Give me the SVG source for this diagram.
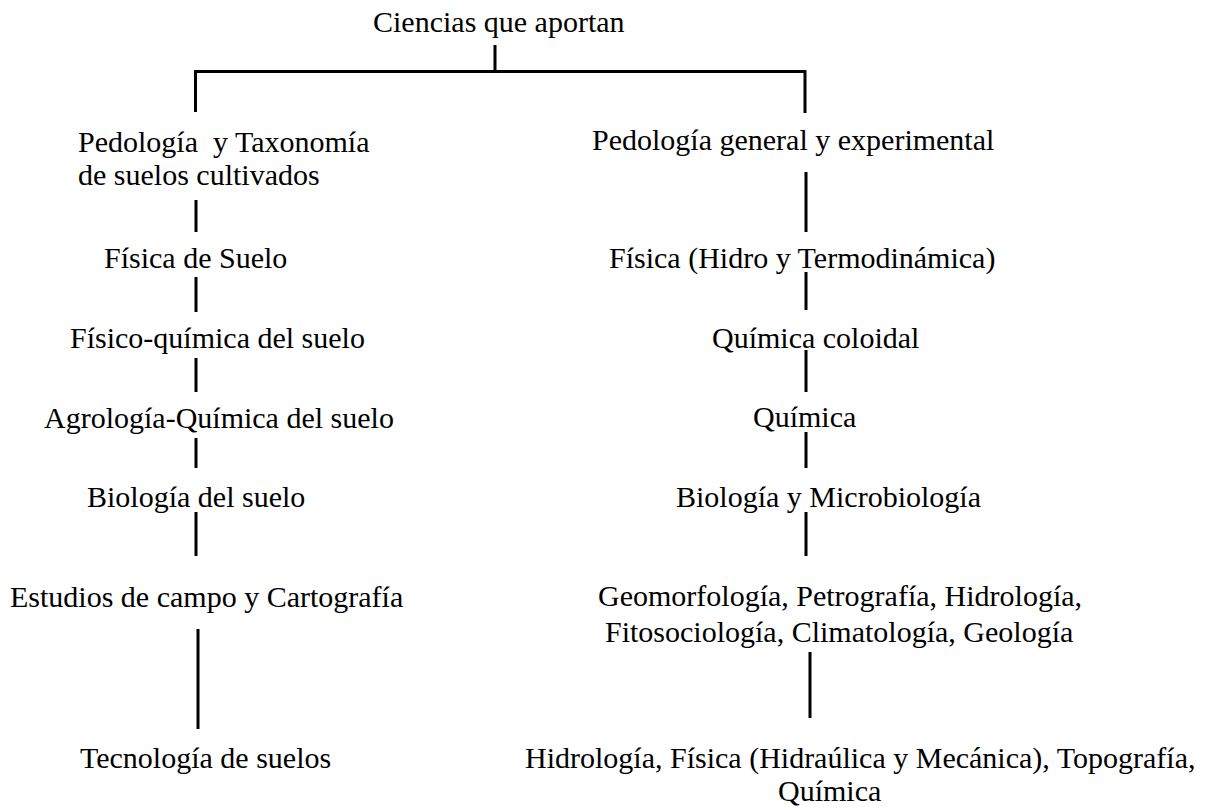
<svg xmlns="http://www.w3.org/2000/svg" width="1207" height="807" viewBox="0 0 1207 807">
<style>
text{font-family:"Liberation Serif","Times New Roman",serif;font-size:30px;fill:#000}
.ln{stroke:#000;stroke-width:3;fill:none}
</style>
<rect width="1207" height="807" fill="#fff"/>
<g id="connectors">
<path class="ln" d="M495,45V71.5M195.5,112V71.5H805V113"/>
<path class="ln" d="M196,200V232M196,277V312M196,358V392M196,438V468M196,512V556M198,629V729"/>
<path class="ln" d="M806,172V232M806,272V310M806,350V392M806,432V468M806,512V556M810,652V718"/>
</g>
<g id="n0"><text x="373" y="32">Ciencias que aportan</text></g>
<g id="l1"><text x="78" y="152" xml:space="preserve">Pedología  y Taxonomía</text><text x="78" y="185">de suelos cultivados</text></g>
<g id="l2"><text x="104" y="268">Física de Suelo</text></g>
<g id="l3"><text x="70" y="348">Físico-química del suelo</text></g>
<g id="l4"><text x="44" y="428">Agrología-Química del suelo</text></g>
<g id="l5"><text x="87" y="507">Biología del suelo</text></g>
<g id="l6"><text x="10" y="607">Estudios de campo y Cartografía</text></g>
<g id="l7"><text x="80" y="768">Tecnología de suelos</text></g>
<g id="r1"><text x="592" y="150">Pedología general y experimental</text></g>
<g id="r2"><text x="609" y="268">Física (Hidro y Termodinámica)</text></g>
<g id="r3"><text x="712" y="348">Química coloidal</text></g>
<g id="r4"><text x="753" y="427">Química</text></g>
<g id="r5"><text x="676" y="507">Biología y Microbiología</text></g>
<g id="r6"><text x="598" y="606">Geomorfología, Petrografía, Hidrología,</text><text x="605" y="642">Fitosociología, Climatología, Geología</text></g>
<g id="r7"><text x="525" y="768">Hidrología, Física (Hidraúlica y Mecánica), Topografía,</text><text x="778" y="801">Química</text></g>
</svg>
